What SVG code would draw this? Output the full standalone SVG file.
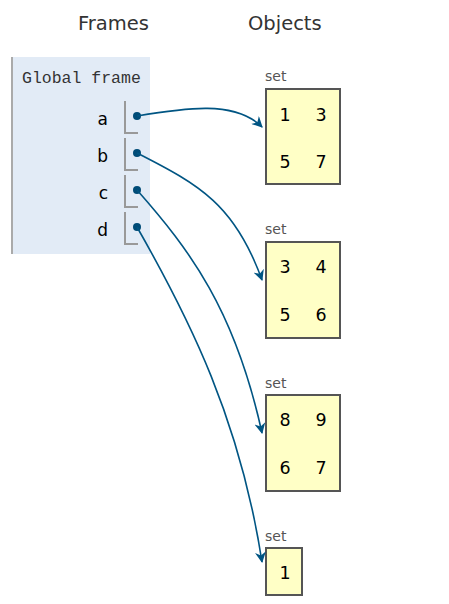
<svg xmlns="http://www.w3.org/2000/svg" width="449" height="604" viewBox="0 0 449 604">
<defs>
<style>
.hdr{font-family:"DejaVu Sans",Verdana,sans-serif;font-size:19.5px;fill:#333}
.mono{font-family:"Liberation Mono","Courier New",monospace;font-size:16.5px;fill:#333}
.var{font-family:"DejaVu Sans",Verdana,sans-serif;font-size:17px;fill:#000;text-anchor:end}
.lbl{font-family:"DejaVu Sans",Verdana,sans-serif;font-size:14px;fill:#555}
.num{font-family:"DejaVu Sans",Verdana,sans-serif;font-size:17.5px;fill:#000;text-anchor:middle}
.obj{fill:#ffffc6;stroke:#555;stroke-width:2}
.ptr{fill:none;stroke:#999;stroke-width:2}
.dot{fill:#004c78}
.arr{fill:none;stroke:#005583;stroke-width:1.6;marker-end:url(#ah)}
</style>
<marker id="ah" viewBox="0 0 10 10" refX="9" refY="5" markerWidth="11" markerHeight="11" markerUnits="userSpaceOnUse" orient="auto">
<path d="M0,0 L10,5 L0,10 L3,5 Z" fill="#005583"/>
</marker>
</defs>
<rect width="449" height="604" fill="#fff"/>
<text class="hdr" x="78" y="30">Frames</text>
<text class="hdr" x="248" y="30">Objects</text>
<g id="global-frame">
<rect x="11" y="57" width="139" height="197" fill="#e2ebf6"/>
<rect x="11" y="57" width="2" height="197" fill="#aaa"/>
<text class="mono" x="22" y="83">Global frame</text>
<text class="var" x="108" y="125">a</text>
<path class="ptr" d="M125,101 V133 H138"/>
<circle class="dot" cx="137" cy="116" r="4"/>
<text class="var" x="108" y="162">b</text>
<path class="ptr" d="M125,138 V170 H138"/>
<circle class="dot" cx="137" cy="153" r="4"/>
<text class="var" x="108" y="199">c</text>
<path class="ptr" d="M125,175 V207 H138"/>
<circle class="dot" cx="137" cy="190" r="4"/>
<text class="var" x="108" y="236">d</text>
<path class="ptr" d="M125,212 V244 H138"/>
<circle class="dot" cx="137" cy="227" r="4"/>
</g>
<g id="set1">
<text class="lbl" x="265" y="81">set</text>
<rect class="obj" x="266" y="89" width="74" height="95"/>
<text class="num" x="285" y="121">1</text>
<text class="num" x="321" y="121">3</text>
<text class="num" x="285" y="168">5</text>
<text class="num" x="321" y="168">7</text>
</g>
<g id="set2">
<text class="lbl" x="265" y="234">set</text>
<rect class="obj" x="266" y="242" width="74" height="96"/>
<text class="num" x="285" y="273">3</text>
<text class="num" x="321" y="273">4</text>
<text class="num" x="285" y="321">5</text>
<text class="num" x="321" y="321">6</text>
</g>
<g id="set3">
<text class="lbl" x="265" y="388">set</text>
<rect class="obj" x="266" y="395" width="74" height="96"/>
<text class="num" x="285" y="426">8</text>
<text class="num" x="321" y="426">9</text>
<text class="num" x="285" y="474">6</text>
<text class="num" x="321" y="474">7</text>
</g>
<g id="set4">
<text class="lbl" x="265" y="541">set</text>
<rect class="obj" x="266" y="548" width="36" height="47"/>
<text class="num" x="285" y="579">1</text>
</g>
<g id="connectors">
<path class="arr" d="M137,116 C185,108 235,100 262,127"/>
<path class="arr" d="M137,153 C200,185 235,205 262,280"/>
<path class="arr" d="M137,190 C190,250 235,310 262,433"/>
<path class="arr" d="M137,227 C190,320 240,420 262,562"/>
</g>
</svg>
